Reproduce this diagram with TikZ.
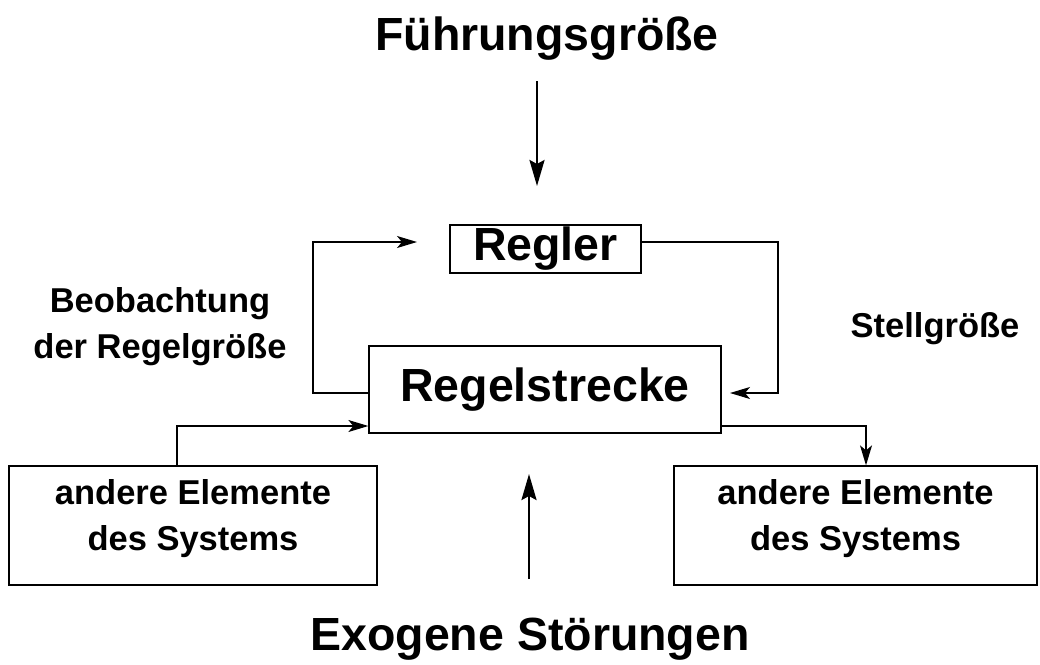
\documentclass[tikz,border=0pt]{standalone}
\usepackage{fontspec}
\setmainfont{Liberation Sans}
\usetikzlibrary{arrows.meta}

\begin{document}
\begin{tikzpicture}[x=1pt,y=-1pt,
  box/.style={draw,line width=1.3pt,inner sep=0pt},
  big/.style={font=\fontsize{46.5}{55}\selectfont\bfseries},
  small/.style={font=\fontsize{34.5}{46}\selectfont\bfseries,align=center},
  conn/.style={line width=1.3pt,-{Stealth[length=20pt,width=12pt,inset=5pt]}},
  bigarrow/.style={line width=2.6pt,-{Stealth[length=26pt,width=15pt,inset=4pt]}}]
\useasboundingbox (0,0) rectangle (1040,664);

\node[big,anchor=base] (fuehrung) at (547,50) {Führungsgröße};
\node[big,anchor=base] (stoerung) at (530,650) {Exogene Störungen};

\node[box,big,minimum width=191pt,minimum height=48pt] (regler) at (545.5,249) {Regler};
\node[box,big,minimum width=352pt,minimum height=87pt] (strecke) at (545,389.5) {Regelstrecke};
\node[box,minimum width=368pt,minimum height=119pt] (links) at (193,525.5) {};
\node[box,minimum width=363pt,minimum height=119pt] (rechts) at (855.5,525.5) {};

\node[small] (linkstext) at ([yshift=7pt]links.center) {andere Elemente\\des Systems};
\node[small] (rechtstext) at ([yshift=7pt]rechts.center) {andere Elemente\\des Systems};
\node[small] (beob) at (160,327) {Beobachtung\\der Regelgröße};
\node[small,anchor=base] (stell) at (935,337) {Stellgröße};

\coordinate (f1) at (537,81);
\coordinate (f2) at (537,186);
\coordinate (u1) at (529,579);
\coordinate (u2) at (529,474);
\draw[bigarrow] (f1) -- (f2);
\draw[bigarrow] (u1) -- (u2);

\coordinate (b1) at (313,393);
\coordinate (b2) at (313,242);
\coordinate (b3) at (417,242);
\draw[conn] (b1 -| strecke.west) -- (b1) -- (b2) -- (b3);

\coordinate (s1) at (778,242);
\coordinate (s2) at (778,393);
\coordinate (s3) at (730,393);
\draw[conn] (s1 -| regler.east) -- (s1) -- (s2) -- (s3);

\coordinate (e1) at (177,426);
\draw[conn] (e1 |- links.north) -- (e1) -- (e1 -| strecke.west);

\coordinate (a1) at (866,426);
\draw[conn] (a1 -| strecke.east) -- (a1) -- (a1 |- rechts.north);

\end{tikzpicture}
\end{document}
